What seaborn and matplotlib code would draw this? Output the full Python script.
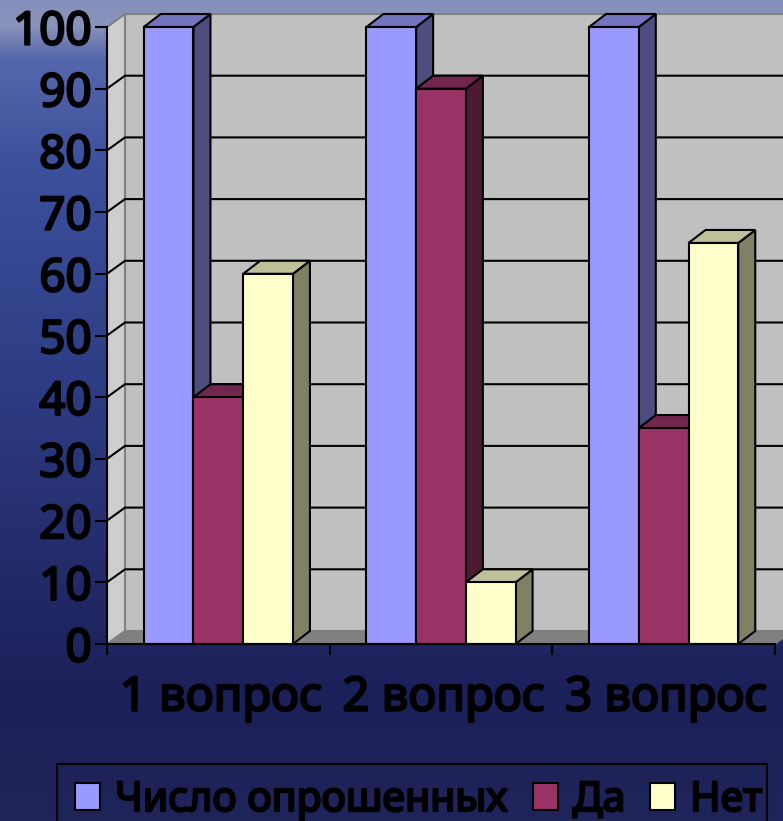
import numpy as np
import pandas as pd
import matplotlib
matplotlib.use("Agg")
import matplotlib.pyplot as plt
import matplotlib.patheffects as pe
from matplotlib.colors import LinearSegmentedColormap, to_rgb
from matplotlib.patches import Polygon, Patch, Rectangle
import seaborn as sns

categories = ["1 вопрос", "2 вопрос", "3 вопрос"]
series_names = ["Число опрошенных", "Да", "Нет"]
surveyed = [100, 100, 100]
yes = [40, 90, 35]
no = [60, 10, 65]
colors = ["#9999FF", "#993366", "#FFFFCC"]
y_ticks = list(range(0, 101, 10))

W, H = 783, 821
sns.set_theme(style="white")
plt.rcParams["font.family"] = ["Noto Sans", "DejaVu Sans"]

fig = plt.figure(figsize=(W / 100, H / 100), dpi=100)

bg = fig.add_axes([0, 0, 1, 1], zorder=-1)
cmap = LinearSegmentedColormap.from_list("bg", [
    (0.0, "#8490bb"), (0.03, "#8a93bb"), (0.07, "#5567ac"), (0.2, "#3d509c"),
    (0.45, "#2e3e86"), (0.7, "#232a68"), (0.85, "#1c2059"), (1.0, "#1f2459")])
bg.imshow(np.linspace(0, 1, 256)[:, None], aspect="auto", cmap=cmap, vmin=0, vmax=1)
bg.axis("off")

L, R, T, B = 107, 775, 27, 644
ax = fig.add_axes([L / W, 1 - B / H, (R - L) / W, (B - T) / H])
ax.patch.set_alpha(0)

df = pd.DataFrame({
    "cat": categories * 3,
    "series": np.repeat(series_names, 3),
    "value": surveyed + yes + no,
})
sns.barplot(data=df, x="cat", y="value", hue="series", hue_order=series_names,
            palette=colors, saturation=1, width=0.67, gap=0, legend=False,
            edgecolor="black", linewidth=1.5, ax=ax)
ax.set_xlim(-0.5, 2.5)
ax.set_ylim(0, 100)
ax.set_xlabel("")
ax.set_ylabel("")

dx = 18 * 3 / (R - L)
bar_dx = 17 * 3 / (R - L)
dy = 13 * 100 / (B - T)
x0, x1 = ax.get_xlim()
GREY = "#808080"

def poly(pts, fc, ec, z, lw=1.5):
    ax.add_patch(Polygon(pts, closed=True, facecolor=fc, edgecolor=ec, linewidth=lw,
                         zorder=z, clip_on=False))

# walls and floor
poly([(x0 + dx, dy), (x1 + dx, dy), (x1 + dx, 100 + dy), (x0 + dx, 100 + dy)], "#C0C0C0", GREY, 0.5, 1.5)
poly([(x0, 0), (x0 + dx, dy), (x0 + dx, 100 + dy), (x0, 100)], "#CECECE", GREY, 0.6, 1.5)
poly([(x0, 0), (x0 + dx, dy), (x1 + dx, dy), (x1, 0)], GREY, GREY, 0.7, 1)
for v in y_ticks[1:-1]:
    ax.plot([x0, x0 + dx, x1 + dx], [v, v + dy, v + dy], color="black", lw=1.5,
            zorder=1, clip_on=False, solid_joinstyle="miter")

# bars with their side and top faces, painted left to right
bars = sorted([b for c in ax.containers for b in c], key=lambda b: b.get_x())
for i, bar in enumerate(bars):
    z = 2 + i * 0.1
    xa, w, h = bar.get_x(), bar.get_width(), bar.get_height()
    xb = xa + w
    rgb = np.array(to_rgb(bar.get_facecolor()))
    bar.set_zorder(z + 0.02)
    bar.set_clip_on(False)
    poly([(xb, 0), (xb + bar_dx, dy), (xb + bar_dx, h + dy), (xb, h)], rgb * 0.5, "black", z)
    poly([(xa, h), (xa + bar_dx, h + dy), (xb + bar_dx, h + dy), (xb, h)], rgb * 0.75, "black", z + 0.01)

# axes
for s in ["top", "right"]:
    ax.spines[s].set_visible(False)
for s in ["left", "bottom"]:
    ax.spines[s].set_color("black")
    ax.spines[s].set_linewidth(1.5)
    ax.spines[s].set_zorder(5)
ax.set_yticks(y_ticks)
ax.set_xticks([-0.5, 0.5, 1.5, 2.5])
ax.set_xticklabels([])
ax.set_xticks([0.012, 1.012, 2.012], labels=categories, minor=True)
ax.tick_params(axis="x", which="major", length=8, width=1.5, color="black", bottom=True)
ax.tick_params(axis="x", which="minor", length=0, pad=22, labelsize=34, labelcolor="black", bottom=True)
ax.tick_params(axis="y", length=9, width=1.5, color="black", pad=2, labelsize=33, labelcolor="black", left=True)
ax.grid(False)

heavy = [pe.withStroke(linewidth=1.7, foreground="black")]
for t in ax.get_yticklabels() + ax.get_xticklabels(minor=True):
    t.set_path_effects(heavy)

handles = [Patch(facecolor=c, edgecolor="black", linewidth=1.5, label=n)
           for c, n in zip(colors, series_names)]
leg = fig.legend(handles=handles, loc="upper left", bbox_to_anchor=(75 / W, 1 - 779 / H),
                 ncol=3, fontsize=29.5, frameon=False, labelcolor="black", borderaxespad=0,
                 borderpad=0, handlelength=0.62, handleheight=0.62, handletextpad=0.36,
                 columnspacing=0.6)
for t in leg.get_texts():
    t.set_path_effects(heavy)
fig.add_artist(Rectangle((57 / W, -10 / H), (767 - 57) / W, (H - 764 + 10) / H,
                         transform=fig.transFigure, facecolor="none", edgecolor="black",
                         linewidth=1.5))

fig.savefig("out.png", dpi=100)
